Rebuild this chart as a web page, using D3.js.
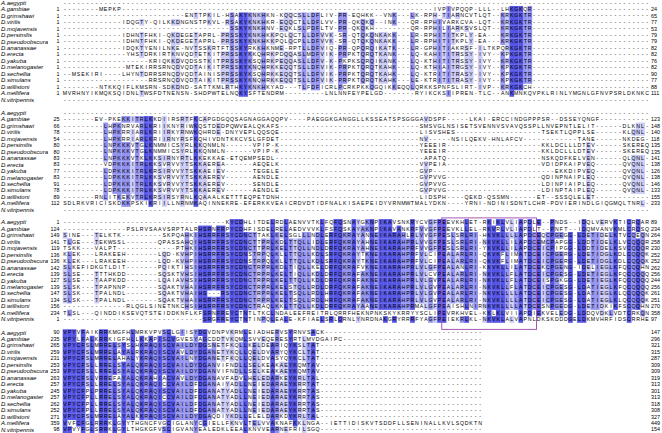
<!DOCTYPE html>
<html>
<head>
<meta charset="utf-8">
<script src="https://cdn.jsdelivr.net/npm/d3@7"></script>
<style>
  html, body { margin: 0; padding: 0; background: #fff; }
  svg { display: block; }
</style>
</head>
<body>
<svg id="chart"></svg>
<script>
const species = ["A.aegypti", "A.gambiae", "D.grimshawi", "D.virilis", "D.mojavensis", "D.persimilis",
  "D.pseudoobscura", "D.ananassae", "D.erecta", "D.yakuba", "D.melanogaster", "D.sechellia",
  "D.simulans", "D.willistoni", "A.mellifera", "N.vitripennis"];

// "|" stands for a run of gaps that fills the row part up to its width
const block1Left = ["|", "--------MEPKP|", "|ENTTPKIL", "|IDQGTY-QILKKDNGNSTPKVL", "|",
  "|IDHNTFHKI-QKDEGETAPRL-", "|IDHNTFHKI-QKDEGETAPRL-", "|IDQKTYENILNKE-NVTSSKRT",
  "|YHSTDRKIRTKNVQDTETKIT", "|KRIQKKDVQDSSTKIT", "|MTEKIRRSRNQDVQDTAIKIT",
  "--MSEKIRI----LHYNTDRRSRNQDVQDTAINIS", "|RRSRNQDVQDTAIKIT",
  "|NTKKQIFLKMSRN-SDKDND-SATTKM", "MVRHNYIKMQKSQIDNLTWSFDTNENSN-SHDPWT", "|"];
const block1Mid = ["|", "|IV",
  "-HSAKYKNKHKN-KQQCSLLDFLIV-PR-EQHKK--VNK---LK-RPH",
  "-RSAKYKNKHKR-EQQCTLLDFLVV-PR-QKQKQ--INK---QR-RPHI",
  "--SSKYKNKHNV-EQKLSLPDFLTV-PR-QKQKH|QR-RPHI",
  "PRSSKYKNKHKKPQLQCTLLDFVVK-SR-QTQKQNKAKK---LR-RPHI",
  "PRSSKYKNKHKKPQLQCPLLDFVVK-SR-QTQKQNKAKK---LR-RPHI",
  "FTSSKYRKKHKNME-RPTLLDFVIQ-PR-QPQRQIKATK---LR-GPHI",
  "PRSSKYKKQHRKPDQQASLMDFVIK-PRPKTQRQTKANK---LQ-KAHI",
  "PRSSKYKSQHRKPEQQASLLDFV-K-PKPKSQRQIKANK---LQ-KTHI",
  "PRSSKYKNQHRKKEQQTSLLDFVIK-PRPKTQRQTKAHK---LQ-KTHI",
  "PRSSKYKSQHRKKEQQTSLLDFVIK-PRPKTQRQTKAHK---LQ-KTRI",
  "PRSSKYKNQHRKKEQQTSLLDFVIK-PRPKTQRQTKAHK---LE-KTRI",
  "LRTHKYKNKHKYAD---TLFDFICRLPCRKPKKQGQIKKEQQLQRKKSP",
  "ELNQKYSFTENDRM---------LNLNNFEYPELGD-------RYIKCK", "|"];
const block1Right = ["|", "PIVPQQP-LLL--LHKGKQR|", "TIARNCVTLQT--KRKGKTR|", "VARKCVA-LQT--KRKGKTR|",
  "LIARKSVSLQT--KRKGKTR|", "TITKPLY-EA---KRKGKTR|", "TITKPLY-EA---KRKGKTR|", "TIAKRSF-ILTKPQRKGKTR|",
  "TITRSSY-IVY--KPKGKTR|", "TITRSSY-IVY--KRKGKTR|", "AITRGSY-IVY--KPKGKTR|", "TITRASY-IVY--KPKGKTR|",
  "TITRASY-IVY--KPKGKTR|", "NFSLIRT-IVP--KRKGKCH|",
  "SIIPREN-TLC--ANKMNKQVPKLRINLYMGNLGFNVPSRLDKNKC", "|"];
const block1Start = [null, 1, 1, 1, 1, 1, 1, 1, 1, 1, 1, 1, 1, 1, 1, null];
const block1End = [null, 24, 65, 77, 53, 79, 79, 82, 82, 76, 82, 90, 77, 88, 111, null];

const block2Left = ["|", "|EV-PKEKKITRLKKDIIRSRTFKCAPGD", "|LHPKNRVARLKRIIKNYRIWKQSTDE",
  "|LHPKRRIARLKRIIRKYRNWKQHRDE", "|LHPKRRIARLKRIIRNYRSFKQHIVD", "|LNPKKKVTGLKNMMICSYRLKKQNML",
  "|LNPKKKVTGLKNMMICSYRLKKQNML", "|LNPKKKVTKLKKSIRNYRTLKKEKKA", "|VDPKKKITRLKKSVRVVYTSKKAERE",
  "|LDPKKKITRLKRSIRVVYTSKKAEIE", "|LDPKKKITRLKKSVRVVYTSKKAERE", "|LDPKKKITRLKKSVRVVYTSKKAERE",
  "|LDPKKKITRLKKSVRVVYTSKKAERE", "|RNLITKEKVTRLKRSIRSYRNLKQAAAL",
  "SDLRKVRICISKDKKPSKIKRIILLNRNMKAQINN", "|"];
const block2Mid = ["|", "GQQSAGNAGGAQQPV----PAEGGKGANGGLLKSSEATSPSGGGAVDSP",
  "DPQWVEALQKAFS|SMSVG", "-DNYVEPLQQSQE|LISVS", "NTKKCVSLGFDET|NV---",
  "N------VPIP-K|YEEEI", "N------VPIP-K|YEEEI", "E-ETQEMPSEDL|APAT",
  "A------AEQELK|VVPEI", "V------TEGELE|GVP--", "V------AENDLE|GVPVV",
  "V------SENDLE|GVPVV", "V------AENDLE|GVPVV", "KETTTEQPETDNH|LIDSP",
  "EKRE-EFERKKVEAICRDVDTIDFNALKISAEPEIDYVRNMWTMALYDK", "|"];
const block2Right = ["|", "F-----LKAI-ERCCINDGPPPSR--DSSEYQNGF|",
  "LNSISETSVENNVSVAVQSSPLLNVEPNTLELIT------DLKNL-",
  "HES|TSEKTLQPPLSE------KLQNL-",
  "--NSILQEKV-HNLAFCV|TANE------NKDEG-",
  "R|KKLDCLLLDTEV------SKEREQ", "R|KKLDCLLLDTEV------SKEREQ",
  "Q|NSKQDFKELVEN------QLQNL-", "A|VDIDPKAIPVEQ------QVQNL-",
  "|EKKDIPVEQ------QVQNL-", "G|QDINPNAIPLEQ------QVQNL-",
  "G|LDINPIAIPLEQ------QVQNL-", "G|LDINPTAIPLEQ------QVQNL-",
  "H----QEKD-QSSMN------ET--SSSQLELET|",
  "N----YRNI-NDINISDNTLCHR-PDVIERINDLGIQGMQLTNRL-", "|"];
const block2Start = [null, 25, 66, 78, 54, 80, 80, 83, 83, 77, 83, 91, 78, 89, 112, null];
const block2End = [null, 123, 148, 140, 118, 135, 135, 141, 138, 126, 138, 146, 133, 155, 233, null];

const block3Left = ["|", "|PSLRVSAAVSRPTALRHSRNF", "SINE---TELKTK|SKPQAHKIHSRRF",
  "TLGE---TEKWSSL|QPASSAHQIHSRRF", "TSKK---VALPT|PTHKIHSRRF",
  "KLEK---LRAKEEH|LQD-KVHPIHSRRF", "KLEK---LRAKEEH|LQD-KVHPIHSRRF",
  "SLKEFIDKGTLDIT|PQIKTIHSIHSRRF", "SLSE---TTTHKDD|SQSKTVHSIHSRRF",
  "SLSE---TAAPKDD|LQAIAVHSIHSRRF", "SLSK---TPAPNNP|SQAKTVHAIHSRRF",
  "SLSK---TPALNDL|SQAKTVHAIHS---", "SLSK---TPALNDL|SQAKTVHAIHSRRF",
  "|RLQGLSINETNKCHSIHSRRF", "TLSL---QINDDIKSEVQTSTEIDDKNFLKFSRNF", "|SRGF"];
const block3Mid = [
  "-KYCDHLITDELRDLAENVVTKLFQFQSNAYGKNPIKAVSNKRYCVGFP",
  "RPYCDHFISDELRELAEDVVVKLFSFQSKAYAKNPIKAVANKRFVVGFP",
  "RSYCDNCTTAKLKELSGLLLNDLERFQKRAYANNEIKARAHLRLVVGFP",
  "RSYCDNCTTPRLKDLTTQLLIDLERFQKRAYAHNEIKARAHPRLVVGFP",
  "RSYCDNCTTPRLKELTTQLLNDLDRFQKRAYAHNEIKARAHPRFVVGFP",
  "RSYCDNSTRPQLKLLTTQLLKDLSRFQKRAYTKNEIKARAHPRFVLCIP",
  "RSYCDNSTRPQLKLLTTQLLKDLSRFQKRAYTKNEIKARAHPRFVLCIP",
  "RSYCDNCTRPRLKDLTIQLLKELDRFQKRAFVKNEIKARAHPRLVLGFP",
  "RSYCDNCTRPRLKELTIQLLKDLDRFQKRAFAKNEIKARAHPRLVLCVP",
  "RSYCDNCTRPRLKELTTQLLKDLDRFQKRAFAKNEIKARAHPRLVLGVP",
  "RSYCDNCTRPRLKELSTQLLRDLDRFQKRAFAKNEIKARAHPRLVLGVP",
  "RSYCDNCTRPRLKELTSQLLRDLHRFQKRAFAKNEIKARAHPRLVLGVP",
  "RSYCDNCTRPRLKELTSQLLRDLHRFQKRAFAKNEIKARAHPRLVLGVP",
  "RSYCDNCTRAQLKKLTTQLLKDLDRFQKRAYAANEIKARAHPRMALGFP",
  "REYCTNTLTKCLNDALEEFREITRLQRRFHEKNPNKSKYKRRYYSCLIP",
  "REYCTNTINPQLEALE-KFIAELSRLQRNLYNRDNAKGRYRRRFYAGFP"];
const block3Right = [
  "EEVKHLET-RKIKLVLIAPDLE--PNDS--IDQLVERVKTICRQAR",
  "EEVKLLEL-RKVRLVLIAPDLT--PNFT--IDQMVANVKMLCRQSQ",
  "ESLSRLRI-HKVKLLLLAPDCEQCPGEGG-LDETIDELKTVCQEQN",
  "ESLSRLRI-NKVKLLILAPDCEMCPAPGG-LDDTIDELKLVCQQQR",
  "ESLSRLRI-YKVKLLILAPDCEICPIPGG-LDDTIDELKSVCQQQR",
  "EALARLRI-QKVKFLIMATDCEICPGERG-LDETIDGLKDLCQQQK",
  "EALARLRI-QKVKFLIMATDCEICPGERG-LDETIDGLKDLCQQQK",
  "EALANLRI-KKVKLLILATDCEKCPGENG-IDELIEGLKFQCQQHN",
  "EALARLRI-NKVKLLFLATDCEICPGESG-LDETIEGLKFQCQQQQ",
  "EALARLRI-NKVKLLFLATDCEISPGKGG-LDETIEGLKFQCQQQQ",
  "EALARLRI-NKVKLLFLATDCEICPGESG-LDATIEGLKFQCQQQQ",
  "EALARLRI-NKVKLLLLATDCEICPGESG-LDATIEGLKLQCQQQK",
  "EALARLRI-NKVKLLLLATDCEICPGESG-LDATIEGLKLQCQQQK",
  "EAISHLNIRNKVKLLLLATDCESNPGEDG-LDETIDKIKFSCQQHN",
  "EVRKHVEL-KKLKLVIIAPDIEKVELEDG-LDDQVDKLVDTCRKQN",
  "EIEKRLKL-NKVKLALVAPNLDKSKDDDGELDKMVHRFIDSCRRHE"];
const block3Start = [1, 124, 149, 141, 119, 136, 136, 142, 139, 127, 139, 147, 134, 156, 234, 1];
const block3End = [89, 234, 264, 258, 230, 252, 252, 262, 256, 244, 256, 261, 251, 270, 358, 97];

const block4Left = [
  "VPYVFAIKRRKMGFHLMRKVPVSCLGIISYDGVDN", "VPYLFALKRRKIGFHLLKKAPISCVGVESYAGCDD",
  "VPYCFSLMRRELSYSLHKRAQISCVAILDYDGSNE", "VPYCFSLMRRELAYALRKRAQISCVAVLDYDGANE",
  "VPYCFSLMRRELAHALYKRAQISCVAILNYDGANE", "VPYCFSLLRRELSYALQKRAQISCVAILDYDGANV",
  "VPYCFSLLRRELSYALQKRAQISCVAILDYDGANV", "VPYCFSLVRREFAYALQKRAHIACVAVLDYDGANA",
  "VPYCFSLLRRELSYALQKRAQICCVAILDFDGANA", "VPYCFPLPRRELSYALQKRAQISCVAILDFDGANA",
  "VPYCFPLLRRELSYALQKRAQICCVAILDFDGANA", "VPYCFPLLRRELSYALQKRAQISCVAILDFDGANA",
  "VPYCFPLLRRELSYALQKRAQISCVAILDFDGANA", "VPYCFSLMRRELAYALKKRAQISCVAILDYDGAQD",
  "VVFCFGLRRRKLGYYTHGNCFVGCIGLANYCGIEL", "VPVYFGLSRRKLGYLTHGKGFVSCIGVANYEALED"];
const block4Mid = [
  "PVKRMLEIADHERVSYRNVSACK|", "TVKQMLSVVEQERESYRTLMVDGAIPC|", "TFKQLLKELDEARIQYKSLTAT|",
  "TYKQLLQELDVARYQYKCLTAT|", "TFKQLLQELDVASYQYKCLTAT|", "IFNDLLSELKEAKAEYKQMTAV|",
  "IFNDLLSELKEAKAEYKQMTAV|", "VFADVLHELEDARKEYKRLTAL|", "IYADLLNEIEDARAEYKRRTAT|",
  "TYADLLNEIEDARAEYKRRTAS|", "TYADLLNEIEDARAEYKRRTAS|", "TYADLLNEIEDARAEYKRRTAS|",
  "TYADLLNEIEDARAEYKRRTAS|", "IYKDLLELELDARKDYKRLTAL|",
  "LFKNVLTELVVAKNAFKKLNGA--IETTIDISKVTSDDFLLSENINALL", "KLEEALKNVVEARNEFRILSGQ|"];
const block4Right = ["|", "|", "|", "|", "|", "|", "|", "|", "|", "|", "|", "|", "|", "|", "KVLSQDKTN", "|"];
const block4Start = [90, 235, 265, 259, 231, 253, 253, 263, 257, 245, 257, 262, 252, 271, 359, 98];
const block4End = [147, 296, 321, 315, 287, 309, 309, 319, 313, 301, 313, 318, 308, 327, 449, 154];

const leftCols = 35, midCols = 49, rightCols = 46, lastRightCols = 9;

// expand the "|" gap marker
function fill(part, cols) {
  const [a, b] = part.includes("|") ? part.split("|") : [part, ""];
  return a + "-".repeat(Math.max(0, cols - a.length - b.length)) + b;
}
function rows(left, mid, right, rCols) {
  return left.map((l, i) => fill(l, leftCols) + fill(mid[i], midCols) + fill(right[i], rCols));
}

const blocks = [
  { rows: rows(block1Left, block1Mid, block1Right, rightCols), start: block1Start, end: block1End, top: -0.5 },
  { rows: rows(block2Left, block2Mid, block2Right, rightCols), start: block2Start, end: block2End, top: 109.6 },
  { rows: rows(block3Left, block3Mid, block3Right, rightCols), start: block3Start, end: block3End, top: 219.1 },
  { rows: rows(block4Left, block4Mid, block4Right, lastRightCols), start: block4Start, end: block4End, top: 329.3 },
];

const width = 662, height = 433;
const svg = d3.select("#chart").attr("width", width).attr("height", height);
svg.append("rect").attr("width", width).attr("height", height).attr("fill", "#fff");

const totalCols = leftCols + midCols + rightCols;
const xScale = d3.scaleBand().domain(d3.range(totalCols)).range([62.7, 649.3]);
const yScale = d3.scaleBand().domain(species).range([0, 16 * 6.47]);
const shade = d3.scaleThreshold().domain([40, 60, 80]).range([null, "#ccccf7", "#9494f0", "#5555e6"]);

// percent identity: residues equal to the column's most common residue get a colour
function shadeRows(seqs) {
  const len = seqs[0].length;
  const colours = [];
  for (let c = 0; c < len; c++) {
    const counts = d3.rollup(seqs.map((s) => s[c]).filter((r) => r !== "-"), (v) => v.length, (r) => r);
    const top = d3.max(counts.values()) || 0;
    colours.push({ counts, top, fill: shade((top / seqs.length) * 100 - 0.001) });
  }
  return colours;
}

blocks.forEach((block) => {
  const g = svg.append("g").attr("transform", `translate(0, ${block.top})`);
  const colours = shadeRows(block.rows);

  const cells = [];
  block.rows.forEach((seq, r) => {
    seq.split("").forEach((res, c) => {
      const info = colours[c];
      const hit = res !== "-" && info.counts.get(res) === info.top;
      cells.push({ r, c, res, fill: hit ? info.fill : null });
    });
  });

  g.selectAll("rect.cell")
    .data(cells.filter((d) => d.fill))
    .join("rect")
    .attr("class", "cell")
    .attr("x", (d) => xScale(d.c))
    .attr("y", (d) => yScale(species[d.r]))
    .attr("width", xScale.bandwidth() + 0.2)
    .attr("height", yScale.bandwidth() + 0.2)
    .attr("fill", (d) => d.fill);

  g.selectAll("text.res")
    .data(cells)
    .join("text")
    .attr("class", "res")
    .attr("x", (d) => xScale(d.c) + xScale.bandwidth() / 2)
    .attr("y", (d) => yScale(species[d.r]) + yScale.bandwidth() / 2 + 1.8)
    .attr("text-anchor", "middle")
    .attr("font-family", "Liberation Sans")
    .attr("font-size", 5.2)
    .attr("fill", "#000")
    .text((d) => d.res);

  g.selectAll("text.name")
    .data(species)
    .join("text")
    .attr("class", "name")
    .attr("x", 1)
    .attr("y", (d) => yScale(d) + yScale.bandwidth() / 2 + 2)
    .attr("font-family", "Liberation Sans")
    .attr("font-style", "italic")
    .attr("font-size", 6)
    .attr("fill", "#000")
    .text((d) => d);

  g.selectAll("text.start")
    .data(block.start)
    .join("text")
    .attr("class", "start")
    .attr("x", 59.5)
    .attr("y", (d, i) => yScale(species[i]) + yScale.bandwidth() / 2 + 1.9)
    .attr("text-anchor", "end")
    .attr("font-family", "Liberation Sans")
    .attr("font-size", 5.4)
    .text((d) => d);

  g.selectAll("text.end")
    .data(block.end)
    .join("text")
    .attr("class", "end")
    .attr("x", 651)
    .attr("y", (d, i) => yScale(species[i]) + yScale.bandwidth() / 2 + 1.9)
    .attr("font-family", "Liberation Sans")
    .attr("font-size", 5.4)
    .text((d) => d);
});

// box around the marked region in the third block
const boxBlock = blocks[2];
svg.append("rect")
  .attr("x", xScale(84))
  .attr("y", boxBlock.top + yScale(species[0]) - 1.2)
  .attr("width", xScale(105) - xScale(84))
  .attr("height", yScale(species[15]) + yScale.bandwidth() + 8)
  .attr("fill", "none")
  .attr("stroke", "#a65ab5")
  .attr("stroke-width", 1);
</script>
</body>
</html>
